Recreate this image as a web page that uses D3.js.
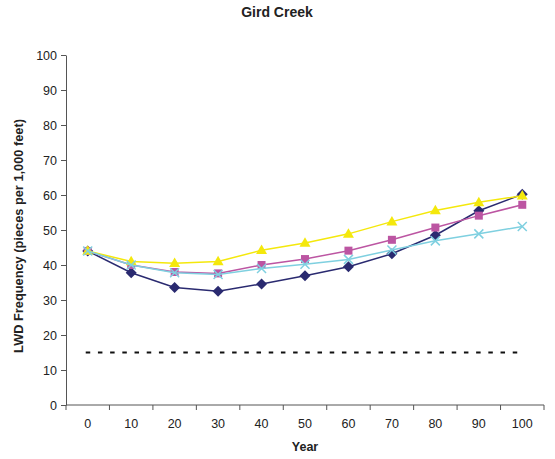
<!DOCTYPE html>
<html>
<head>
<meta charset="utf-8">
<script src="https://cdn.jsdelivr.net/npm/d3@7"></script>
<style>
  body { margin: 0; background: #fff; }
  svg { display: block; font-family: Arial, "Liberation Sans", sans-serif; }
</style>
</head>
<body>
<svg id="chart" width="555" height="459"></svg>
<script>
// Years along the category axis
const years = [0, 10, 20, 30, 40, 50, 60, 70, 80, 90, 100];
// LWD frequency series (pieces per 1,000 feet)
const seriesA = [44, 37.8, 33.6, 32.5, 34.6, 36.9, 39.5, 43.2, 48.5, 55.5, 60.2];
const seriesB = [44, 40, 38, 37.6, 40, 41.7, 44.1, 47.2, 50.7, 54.1, 57.2];
const seriesC = [44, 41, 40.5, 41, 44.2, 46.3, 48.9, 52.4, 55.6, 57.9, 59.8];
const seriesD = [44, 40, 37.8, 37.3, 39, 40.2, 41.6, 44.3, 46.9, 48.9, 51];
// Reference threshold
const threshold = 15;
const yTicks = [0, 10, 20, 30, 40, 50, 60, 70, 80, 90, 100];

const svg = d3.select("#chart");
const plotLeft = 66, plotRight = 544, plotTop = 55, plotBottom = 405;

const x = d3.scaleBand().domain(years).range([plotLeft, plotRight]);
const y = d3.scaleLinear().domain([0, 100]).range([plotBottom, plotTop]);
const cx = d => x(d) + x.bandwidth() / 2;

// Title
svg.append("text").attr("x", 277).attr("y", 17)
  .attr("text-anchor", "middle").attr("font-size", 14).attr("font-weight", "bold")
  .attr("fill", "#222").text("Gird Creek");

// Y axis
const yAxis = svg.append("g").attr("transform", `translate(${plotLeft},0)`)
  .call(d3.axisLeft(y).tickValues(yTicks).tickSize(5).tickSizeOuter(0).tickPadding(4));
yAxis.select(".domain").attr("stroke", "#555");
yAxis.selectAll(".tick line").attr("stroke", "#555");
yAxis.selectAll(".tick text").attr("font-size", 12.5).attr("fill", "#222")
  .attr("font-family", "Arial, 'Liberation Sans', sans-serif");

// X axis: ticks between categories
const xAxisG = svg.append("g").attr("transform", `translate(0,${plotBottom})`);
xAxisG.append("line").attr("x1", plotLeft).attr("x2", plotRight).attr("y1", 0).attr("y2", 0)
  .attr("stroke", "#555");
const bounds = years.map(d => x(d)).concat([plotRight]);
xAxisG.selectAll("line.tk").data(bounds).join("line").attr("class", "tk")
  .attr("x1", d => d).attr("x2", d => d).attr("y1", 0).attr("y2", 5).attr("stroke", "#555");
xAxisG.selectAll("text").data(years).join("text")
  .attr("x", d => cx(d)).attr("y", 23).attr("text-anchor", "middle")
  .attr("font-size", 12.5).attr("fill", "#222").text(d => d);

// Axis titles
svg.append("text").attr("x", 305).attr("y", 451).attr("text-anchor", "middle")
  .attr("font-size", 12.5).attr("font-weight", "bold").attr("fill", "#222").text("Year");
svg.append("text").attr("transform", "translate(23,236) rotate(-90)")
  .attr("text-anchor", "middle").attr("font-size", 12.8).attr("font-weight", "bold")
  .attr("fill", "#222").text("LWD Frequency (pieces per 1,000 feet)");

// Dashed threshold line
svg.append("line").attr("x1", cx(years[0]) - 2).attr("x2", cx(years[years.length - 1]) + 2)
  .attr("y1", y(threshold)).attr("y2", y(threshold))
  .attr("stroke", "#111").attr("stroke-width", 2).attr("stroke-dasharray", "4.5,7.7");

const line = d3.line().x((d, i) => cx(years[i])).y(d => y(d));

const series = [
  { values: seriesA, color: "#2A2A70", symbol: "diamond" },
  { values: seriesB, color: "#BC55A2", symbol: "square" },
  { values: seriesC, color: "#F4E80C", symbol: "triangle" },
  { values: seriesD, color: "#7FD0E0", symbol: "x" }
];

function markerPath(type, px, py) {
  if (type === "diamond") {
    const r = 5.5;
    return `M${px},${py - r}L${px + r},${py}L${px},${py + r}L${px - r},${py}Z`;
  }
  if (type === "square") {
    const r = 4;
    return `M${px - r},${py - r}h${2 * r}v${2 * r}h${-2 * r}Z`;
  }
  if (type === "triangle") {
    const w = 5.5, h = 9.5;
    return `M${px},${py - h * 0.6}L${px + w},${py + h * 0.4}L${px - w},${py + h * 0.4}Z`;
  }
  const r = 4.5;
  return `M${px - r},${py - r}L${px + r},${py + r}M${px - r},${py + r}L${px + r},${py - r}`;
}

series.forEach(s => {
  svg.append("path").datum(s.values).attr("d", line)
    .attr("fill", "none").attr("stroke", s.color).attr("stroke-width", 1.5);
  const g = svg.append("g");
  s.values.forEach((v, i) => {
    const p = g.append("path").attr("d", markerPath(s.symbol, cx(years[i]), y(v)));
    if (s.symbol === "x") p.attr("stroke", s.color).attr("stroke-width", 1.5).attr("fill", "none");
    else p.attr("fill", s.color);
  });
});
</script>
</body>
</html>
